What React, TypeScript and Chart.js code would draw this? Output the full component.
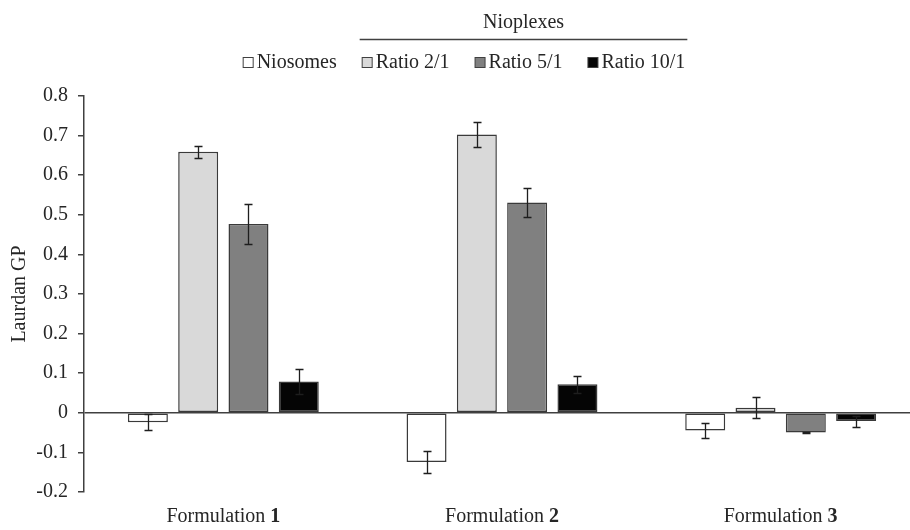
import React, { useEffect, useRef } from "react";
import { Chart, registerables } from "chart.js";

Chart.register(...registerables);

const categories = ["1", "2", "3"];
const seriesNames = ["Niosomes", "Ratio 2/1", "Ratio 5/1", "Ratio 10/1"];
const niosomes = [-0.024, -0.124, -0.045];
const ratio2 = [0.659, 0.703, 0.013];
const ratio5 = [0.477, 0.531, -0.05];
const ratio10 = [0.079, 0.072, -0.021];
const niosomesErr = [0.02, 0.028, 0.019];
const ratio2Err = [0.015, 0.032, 0.027];
const ratio5Err = [0.051, 0.036, 0.002];
const ratio10Err = [0.032, 0.022, 0.014];
const fills = ["#ffffff", "#d9d9d9", "#808080", "#050505"];
const groupTitle = "Nioplexes";
const yTitle = "Laurdan GP";
const xPrefix = "Formulation ";

const FONT = "'Liberation Serif', 'Times New Roman', serif";
const TEXT = "#262626";
const LINE = "#404040";

const errorBars = {
  id: "errorBars",
  afterDatasetsDraw(chart: any) {
    const ctx = chart.ctx;
    const y = chart.scales.y;
    ctx.save();
    ctx.strokeStyle = "#1e1e1e";
    ctx.lineWidth = 1.3;
    chart.data.datasets.forEach((ds: any, i: number) => {
      const meta = chart.getDatasetMeta(i);
      meta.data.forEach((bar: any, j: number) => {
        const v = ds.data[j];
        const e = ds.errors[j];
        const yt = Math.round(y.getPixelForValue(v + e)) + 0.5;
        const yb = Math.round(y.getPixelForValue(v - e)) + 0.5;
        const x = Math.round(bar.x) + 0.5;
        ctx.beginPath();
        ctx.moveTo(x, yt);
        ctx.lineTo(x, yb);
        ctx.moveTo(x - 4, yt);
        ctx.lineTo(x + 4, yt);
        ctx.moveTo(x - 4, yb);
        ctx.lineTo(x + 4, yb);
        ctx.stroke();
      });
    });
    ctx.restore();
  },
};

const legendAndLabels = {
  id: "legendAndLabels",
  afterDraw(chart: any) {
    const ctx = chart.ctx;
    ctx.save();
    ctx.font = `20px ${FONT}`;
    ctx.textBaseline = "middle";
    ctx.fillStyle = TEXT;
    const box = 10;
    const gapBox = 4;
    const gapItem = 25;
    const widths = seriesNames.map((n) => ctx.measureText(n).width);
    const total =
      widths.reduce((a: number, w: number) => a + w + box + gapBox, 0) +
      gapItem * (seriesNames.length - 1);
    let x = chart.width / 2 - total / 2 - 1;
    const ly = 62;
    const starts: number[] = [];
    const ends: number[] = [];
    seriesNames.forEach((n, i) => {
      starts.push(x);
      ctx.fillStyle = fills[i];
      ctx.fillRect(x + 0.5, ly - box / 2 + 0.5, box, box);
      ctx.strokeStyle = LINE;
      ctx.lineWidth = 1;
      ctx.strokeRect(x + 0.5, ly - box / 2 + 0.5, box, box);
      ctx.fillStyle = TEXT;
      ctx.textAlign = "left";
      ctx.fillText(n, x + box + gapBox, ly + 1);
      x += box + gapBox + widths[i];
      ends.push(x);
      x += gapItem;
    });
    // group bracket
    const gx0 = starts[1] - 2;
    const gx1 = ends[3] + 2;
    ctx.strokeStyle = "#404040";
    ctx.lineWidth = 1.5;
    ctx.beginPath();
    ctx.moveTo(gx0, 39.5);
    ctx.lineTo(gx1, 39.5);
    ctx.stroke();
    ctx.textAlign = "center";
    ctx.fillText(groupTitle, (gx0 + gx1) / 2, 23);

    // x labels with bold number
    const xs = chart.scales.x;
    categories.forEach((c, i) => {
      const cx = xs.getPixelForValue(i);
      ctx.font = `20px ${FONT}`;
      const w1 = ctx.measureText(xPrefix).width;
      ctx.font = `bold 20px ${FONT}`;
      const w2 = ctx.measureText(c).width;
      const left = cx - (w1 + w2) / 2;
      ctx.textAlign = "left";
      ctx.font = `20px ${FONT}`;
      ctx.fillText(xPrefix, left, 517);
      ctx.font = `bold 20px ${FONT}`;
      ctx.fillText(c, left + w1, 517);
    });
    ctx.restore();
  },
};

export default function App() {
  const ref = useRef<HTMLCanvasElement>(null);
  useEffect(() => {
    if (!ref.current) return;
    const errs = [niosomesErr, ratio2Err, ratio5Err, ratio10Err];
    const vals = [niosomes, ratio2, ratio5, ratio10];
    const chart = new Chart(ref.current, {
      type: "bar",
      data: {
        labels: categories.map((c) => xPrefix + c),
        datasets: seriesNames.map((n, i) => ({
          label: n,
          data: vals[i],
          errors: errs[i],
          backgroundColor: fills[i],
          borderColor: "#3a3a3a",
          borderWidth: 1.5,
          borderSkipped: false,
          categoryPercentage: 0.722,
          barPercentage: 0.795,
        })) as any,
      },
      options: {
        animation: false,
        responsive: false,
        maintainAspectRatio: false,
        layout: { padding: { top: 96, right: 10, bottom: 30, left: 0 } },
        plugins: { legend: { display: false }, tooltip: { enabled: false } },
        scales: {
          x: {
            ticks: { display: false },
            grid: { display: false },
            border: { display: false },
          },
          y: {
            min: -0.2,
            max: 0.8,
            ticks: {
              stepSize: 0.1,
              font: { family: FONT, size: 20 },
              color: TEXT,
              padding: 10,
              callback: (v: any) => {
                const n = Math.round(Number(v) * 10) / 10;
                return n === 0 ? "0" : String(n);
              },
            },
            grid: {
              drawOnChartArea: true,
              drawTicks: true,
              tickLength: 6,
              tickColor: LINE,
              lineWidth: 1.5,
              color: (c: any) =>
                c.tick && Math.abs(c.tick.value) < 1e-9 ? LINE : "rgba(0,0,0,0)",
            },
            border: { display: true, color: LINE, width: 1.5 },
            title: {
              display: true,
              text: yTitle,
              font: { family: FONT, size: 20 },
              color: TEXT,
              padding: { top: 8, bottom: 0 },
            },
            afterFit: (s: any) => {
              s.width = 84;
            },
          },
        },
      } as any,
      plugins: [errorBars, legendAndLabels],
    });
    return () => chart.destroy();
  }, []);
  return (
    <div
      style={{
        position: "fixed",
        left: 0,
        top: 0,
        width: 910,
        height: 530,
        overflow: "hidden",
        background: "#fff",
      }}
    >
      <canvas ref={ref} width={930} height={530} style={{ display: "block" }} />
    </div>
  );
}
